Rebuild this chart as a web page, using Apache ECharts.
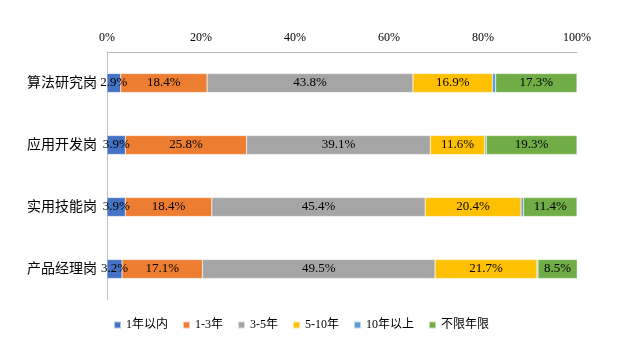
<!DOCTYPE html>
<html><head><meta charset="utf-8">
<script src="https://cdn.jsdelivr.net/npm/echarts@6/dist/echarts.min.js"></script>
<style>html,body{margin:0;padding:0;background:#fff}#c{width:632px;height:344px}</style>
</head><body><div id="c"></div>
<script>
var categories = ['算法研究岗','应用开发岗','实用技能岗','产品经理岗'];
var seriesNames = ['1年以内','1-3年','3-5年','5-10年','10年以上','不限年限'];
var s1 = [2.9, 3.9, 3.9, 3.2];
var s2 = [18.4, 25.8, 18.4, 17.1];
var s3 = [43.8, 39.1, 45.4, 49.5];
var s4 = [16.9, 11.6, 20.4, 21.7];
var s5 = [0.7, 0.3, 0.5, 0.2];
var s6 = [17.3, 19.3, 11.4, 8.5];
var xTicks = [0, 20, 40, 60, 80, 100];
var colors = ['#4472C4','#ED7D31','#A5A5A5','#FFC000','#5B9BD5','#70AD47'];
var FONT = '"Liberation Serif","Noto Sans CJK SC",serif';
var allData = [s1,s2,s3,s4,s5,s6];
var series = allData.map(function(d,i){
  return {
    name: seriesNames[i], type:'bar', stack:'total', barWidth:19, data:d,
    itemStyle:{color:colors[i], borderColor:'rgba(255,255,255,0.6)', borderWidth:0.5},
    label:{show: i!==4, position:'inside', formatter:'{c}%', color:'#000', fontSize:13, fontFamily:FONT},
    emphasis:{disabled:true}
  };
});
var chart = echarts.init(document.getElementById('c'));
chart.setOption({
  animation:false,
  color:colors,
  grid:{left:107, right:55, top:52, bottom:44, containLabel:false},
  legend:{data:seriesNames, bottom:8, left:108, icon:'rect', itemWidth:7, itemHeight:7, itemGap:14,
    textStyle:{fontSize:12, fontFamily:FONT, color:'#000'}},
  xAxis:{type:'value', position:'top', min:0, max:100, interval:20,
    axisLine:{show:true, lineStyle:{color:'#BFBFBF'}}, axisTick:{show:false}, splitLine:{show:false},
    axisLabel:{formatter:function(v){return xTicks.indexOf(v)>=0? v+'%':'';}, fontSize:12, fontFamily:FONT, color:'#000', margin:8}},
  yAxis:{type:'category', data:categories, inverse:true,
    axisLine:{show:true, lineStyle:{color:'#BFBFBF'}}, axisTick:{show:false},
    axisLabel:{fontSize:14, fontFamily:FONT, color:'#000', margin:10}},
  series:series
});
</script></body></html>
